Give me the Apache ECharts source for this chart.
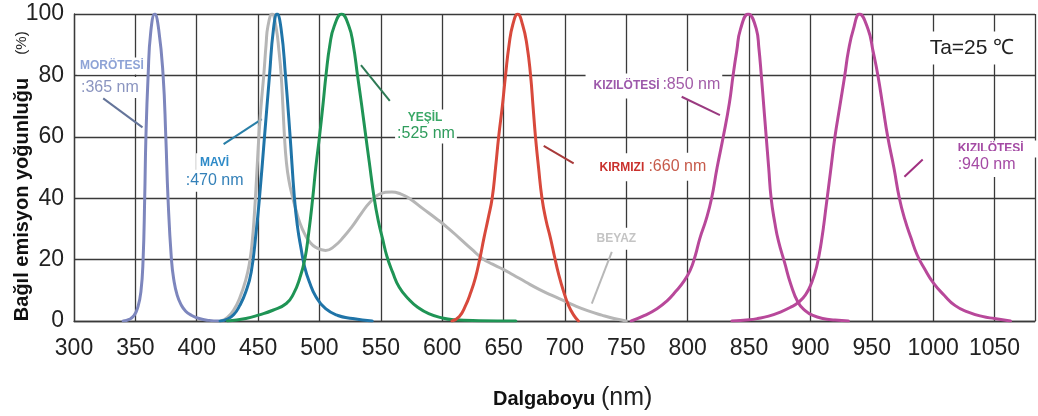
<!DOCTYPE html>
<html><head><meta charset="utf-8">
<script src="https://cdn.jsdelivr.net/npm/echarts@6/dist/echarts.min.js"></script>
<style>html,body{margin:0;padding:0;background:#fff}#c{width:1038px;height:416px}</style>
</head><body><div id="c"></div>
<script>
// ---- tick labels ----
const xTickLabels = [300,350,400,450,500,550,600,650,700,750,800,850,900,950,1000,1050];
const yTickLabels = [0,20,40,60,80,100];

// ---- series values [wavelength nm, relative intensity %] ----
const uv365 = [[340,0],[345,0.5],[349,1.8],[352,4.5],[354.5,9.5],[356.3,20],[357.6,40],[358.6,60],[360.4,80],[362.5,94],[365.8,100],[369,95],[372.6,80],[374.8,60],[376.6,40],[379.4,20],[381.5,13],[384,8.5],[387,5.5],[391,3.2],[396,1.8],[402,0.8],[410,0.2],[418,0]];
const blue470 = [[419,0],[425,0.6],[430,2],[435,5],[440,9.5],[444.4,16],[448.4,29],[451.1,40],[455.2,60],[459.3,80],[462.5,95],[465.5,100],[468.8,95],[472.3,80],[476.1,60],[479.6,40],[482,31],[485,23.6],[488,17.5],[491.8,12.7],[497,8],[505,4],[515,1.8],[527,0.8],[535,0.3],[543,0]];
const white = [[420,0],[425,1.2],[430,3.5],[435,7.5],[440,13.5],[443,19],[445,25],[447,35],[448.8,47],[450.6,60],[452.6,71],[454.6,80],[456.5,90],[458,96],[461.4,100],[464.5,96],[467,88],[468.8,80],[470.2,70],[471.5,60],[473,52],[475,46],[478,40.5],[481,36],[484,32],[488,28.3],[492,25.8],[497,24],[505,23],[512,24.3],[520,27.5],[527,31],[534,35],[541,38.6],[549,41.3],[559,42],[566,41.4],[573,40],[584,36.7],[595,33.4],[605,30.2],[614,27],[624,23.4],[633,20.3],[641,18.5],[649,17],[658,15],[668,12.7],[679,10.3],[689,8.4],[699,6.6],[708,5],[719,3.3],[730,1.9],[740,0.8],[750,0]];
const green525 = [[425,0],[440,0.8],[451,2],[462,3.5],[473,5.7],[479,9],[484,14],[488,20],[491,28],[494.5,40],[497,50],[500,60],[503,71],[505.3,80],[508.5,90],[512,96],[518,100],[524,96],[527.5,90],[531,80],[534.5,70],[537.8,60],[540.5,52],[544.6,40],[548,32.5],[551.3,27],[555,21],[559.5,16],[565,11],[573,7],[580,4.5],[589,2.4],[600,1],[610,0.4],[630,0.1],[660,0]];
const red660 = [[608,0],[614,1.5],[619,5],[623,9],[627,14],[630.5,20],[634,27],[637.5,33.5],[640.7,40],[643.5,50],[646,60],[649,70],[651.6,80],[654.5,90],[657.5,96.5],[661.5,100],[665.5,96.5],[669,90],[672,80],[674,70],[676,60],[678.5,50],[681.3,40],[684.5,33],[688.2,27],[691.5,21],[695,15],[699,9.5],[703,5],[707,2],[711,0]];
const ir850 = [[754,0],[765,1.8],[775,4],[783,6.5],[790,9.5],[797,13],[802,16.5],[806,21],[810,27],[815,33],[819.5,40],[824,50],[829,60],[834,71],[837,80],[840,88],[843,95],[849.3,100],[856,95],[858,89],[860,80],[862,70],[864,60],[866,50],[868,40],[871,32],[874,26],[879,19],[884,12],[890,6],[896,3.3],[902,1.8],[910,0.8],[920,0.3],[931,0]];
const ir940 = [[836,0],[850,0.4],[857,0.8],[866,1.6],[876,3],[884,4.5],[890,6],[896,8.5],[901,12.5],[905,17.5],[909,26],[913,38],[916.5,49],[920,60],[924,70],[928,80],[931,88],[935,95],[940,100],[947,95],[951,88],[955,80],[959,70],[963,60],[968,50],[972.5,40],[977,33],[982,27],[987,21.5],[993,17],[1000,12.5],[1009,8.4],[1018,5],[1028,3],[1040,1.5],[1050,0.8],[1063,0]];

const seriesNames = ['BEYAZ','MORÖTESİ 365 nm','MAVİ 470 nm','YEŞİL 525 nm','KIRMIZI 660 nm','KIZILÖTESİ 850 nm','KIZILÖTESİ 940 nm'];
const seriesData = [white, uv365, blue470, green525, red660, ir850, ir940];
const seriesColors = ['#b6b6b6','#7d86bd','#1f74a8','#1f9455','#d8493c','#b8489a','#b8489a'];

// ---- annotation texts (in data coordinates) ----
const FF = '"Liberation Sans", Arial, sans-serif';
const labelTexts = [
  {t:'MORÖTESİ', at:[302.4,83.05], align:'left', font:'bold 12px '+FF, color:'#8ea3d6', pad:[3,3,2,3]},
  {t:':365 nm', at:[303.25,76.04], align:'left', font:'16px '+FF, color:'#8b95c0', pad:[2,3,3,3]},
  {t:'MAVİ', at:[414.6,51.42], align:'center', font:'bold 12px '+FF, color:'#2d8ac8', pad:[6,4,2,4]},
  {t:':470 nm', at:[414.6,45.72], align:'center', font:'16px '+FF, color:'#3380b8', pad:[2,3,4,3]},
  {t:'YEŞİL', at:[586.0,66.1], align:'center', font:'bold 12px '+FF, color:'#3aa866', pad:[3,4,2,4]},
  {t:':525 nm', at:[586.8,61.04], align:'center', font:'16px '+FF, color:'#2f9c5c', pad:[2,2,2,2]},
  {t:'KIRMIZI', at:[721.7,50.1], align:'left', font:'bold 12px '+FF, color:'#c9302c', pad:[8,4,8,8]},
  {t:':660 nm', at:[766.4,50.28], align:'left', font:'16px '+FF, color:'#c65a4a', pad:[6,2,6,2]},
  {t:'KIZILÖTESİ', at:[716.8,76.53], align:'left', font:'bold 12px '+FF, color:'#9c58aa', pad:[7,2,6,8]},
  {t:':850 nm', at:[777.8,76.86], align:'left', font:'16px '+FF, color:'#a25ca8', pad:[6,2,6,2]},
  {t:'KIZILÖTESİ', at:[1010.2,55.99], align:'left', font:'bold 12px '+FF, color:'#a44aa4', pad:[3,14,2,12]},
  {t:':940 nm', at:[1010.2,51.1], align:'left', font:'16px '+FF, color:'#a44aa4', pad:[2,14,8,12]},
  {t:'BEYAZ', at:[720.9,26.8], align:'left', font:'bold 12px '+FF, color:'#c4c4c4', pad:[5,6,5,6]},
  {t:'Ta=25 ℃', at:[989.0,88.92], align:'left', font:'21px '+FF, color:'#222', pad:[6,6,6,10]}
];
const leaderLines = [
  {from:[323.8,72.52], to:[355.8,63.06], color:'#65759a'},
  {from:[421.9,57.62], to:[453.0,65.77], color:'#2a7fa8'},
  {from:[533.8,83.38], to:[557.3,71.74], color:'#2e7a55'},
  {from:[682.7,57.06], to:[707.1,51.33], color:'#a83a3a'},
  {from:[795.1,73.04], to:[826.3,67.07], color:'#9a3a80'},
  {from:[976.6,46.96], to:[991.5,52.63], color:'#a03080'},
  {from:[738.2,22.5], to:[721.9,5.67], color:'#b8b8b8'}
];

const chart = echarts.init(document.getElementById('c'), null, {renderer:'canvas'});
const gridColor = '#3a3a3a';
const option = {
  backgroundColor:'#fff',
  animation:false,
  grid:{left:74, top:14, right:0, bottom:95, containLabel:false},
  xAxis:{
    type:'value', min:300, max:1083, interval:50,
    axisLine:{show:true, lineStyle:{color:gridColor, width:1.3}},
    axisTick:{show:false},
    splitLine:{show:true, lineStyle:{color:gridColor, width:1.3}},
    axisLabel:{
      margin:16, color:'#222', fontSize:23, fontFamily:FF,
      formatter: v => xTickLabels.includes(v) ? String(v) : ''
    }
  },
  yAxis:{
    type:'value', min:0, max:100, interval:20,
    axisLine:{show:true, lineStyle:{color:gridColor, width:1.3}},
    axisTick:{show:false},
    splitLine:{show:true, lineStyle:{color:gridColor, width:1.3}},
    axisLabel:{
      margin:10, color:'#222', fontSize:23, fontFamily:FF,
      formatter: v => yTickLabels.includes(v) ? String(v) : ''
    }
  },
  series: seriesData.map((d,i)=>({
    name: seriesNames[i], type:'line', data:d, showSymbol:false, symbol:'none',
    smooth:0.5, z:3+i,
    lineStyle:{color:seriesColors[i], width:3, join:'round', cap:'round'},
    itemStyle:{color:seriesColors[i]}
  }))
};
chart.setOption(option);

const px = p => chart.convertToPixel({gridIndex:0}, p);
const graphics = [];
leaderLines.forEach(l => {
  const a = px(l.from), b = px(l.to);
  graphics.push({type:'line', z:2, shape:{x1:a[0],y1:a[1],x2:b[0],y2:b[1]}, style:{stroke:l.color, lineWidth:2}});
});
labelTexts.forEach(l => {
  const a = px(l.at);
  graphics.push({type:'text', z:1, x:a[0], y:a[1], style:{text:l.t, fill:l.color, font:l.font, align:l.align, verticalAlign:'middle', backgroundColor:'#fff', padding:l.pad}});
});
// axis titles
graphics.push({type:'text', z:5, x:22, y:199.5, rotation:Math.PI/2, style:{text:'Bağıl emisyon yoğunluğu', fill:'#111', font:'bold 20px '+FF, align:'center', verticalAlign:'middle'}});
graphics.push({type:'text', z:5, x:22, y:43, rotation:Math.PI/2, style:{text:'(%)', fill:'#222', font:'15px '+FF, align:'center', verticalAlign:'middle'}});
graphics.push({type:'text', z:5, x:493, y:399, style:{text:'Dalgaboyu', fill:'#111', font:'bold 20px '+FF, align:'left', verticalAlign:'middle'}});
graphics.push({type:'text', z:5, x:601, y:398, style:{text:'(nm)', fill:'#222', font:'25px '+FF, align:'left', verticalAlign:'middle'}});
chart.setOption({graphic: graphics});
</script>
</body></html>
